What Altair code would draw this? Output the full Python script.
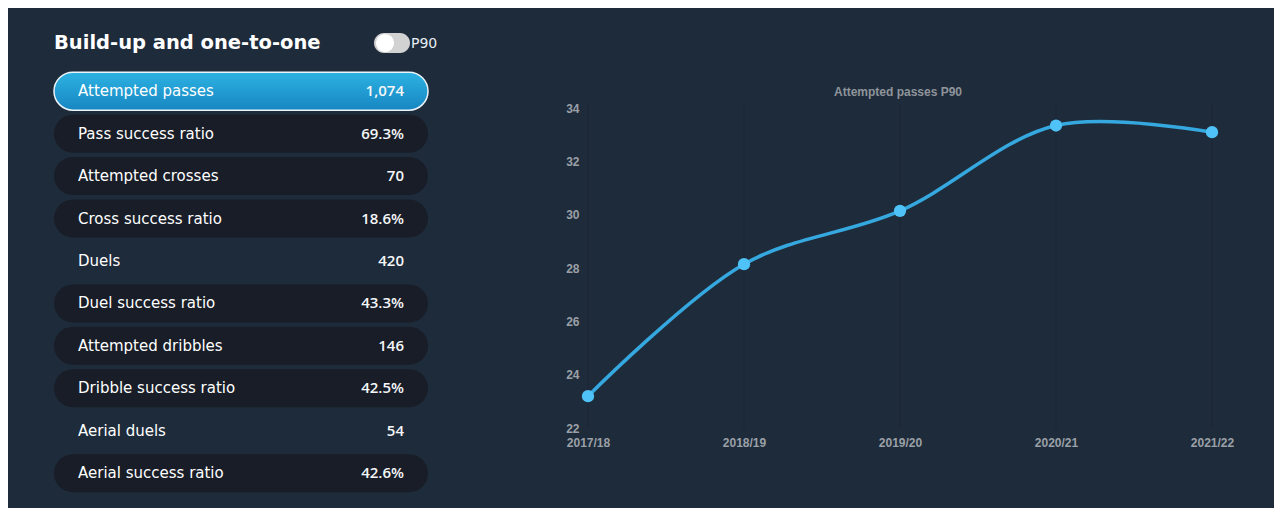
import altair as alt
import pandas as pd

# ---------------- data ----------------
stat_labels = ["Attempted passes", "Pass success ratio", "Attempted crosses",
               "Cross success ratio", "Duels", "Duel success ratio",
               "Attempted dribbles", "Dribble success ratio", "Aerial duels",
               "Aerial success ratio"]
stat_values = ["1,074", "69.3%", "70", "18.6%", "420", "43.3%", "146",
               "42.5%", "54", "42.6%"]
plain_rows = ["Duels", "Aerial duels"]
selected_row = "Attempted passes"

seasons = ["2017/18", "2018/19", "2019/20", "2020/21", "2021/22"]
p90_values = [23.2, 28.15, 30.15, 33.35, 33.1]
y_ticks = [22, 24, 26, 28, 30, 32, 34]

panel_title = "Build-up and one-to-one"
toggle_label = "P90"
chart_title = "Attempted passes P90"

# ---------------- styles ----------------
BG = "#1e2b3a"
PILL = "#181d27"
TXT_FONT = "DejaVu Sans"
VAL_FONT = "Open Sans"
AX_FONT = "Liberation Sans"
AX_COLOR = "#9aa0a7"

stats = pd.DataFrame({"label": stat_labels, "value": stat_values})
stats["kind"] = ["selected" if l == selected_row else ("plain" if l in plain_rows else "pill")
                 for l in stat_labels]

W_L = 374
H_L = 424.4

ybase = alt.Y("label:N", sort=stat_labels,
              scale=alt.Scale(paddingInner=0.105, paddingOuter=0.0525), axis=None)
base = alt.Chart(stats).encode(y=ybase)

pills = base.transform_filter("datum.kind == 'pill'").mark_bar(
    cornerRadius=19, color=PILL
).encode(x=alt.value(0), x2=alt.value(W_L))

selected = base.transform_filter("datum.kind == 'selected'").mark_bar(
    cornerRadius=19, stroke="#eaf4fa", strokeWidth=1.5,
    color=alt.Gradient(gradient="linear",
                       stops=[alt.GradientStop(color="#2db2e2", offset=0),
                              alt.GradientStop(color="#1786c2", offset=1)],
                       x1=0, x2=0, y1=0, y2=1)
).encode(x=alt.value(0), x2=alt.value(W_L))

labels = base.mark_text(align="left", baseline="middle", font=TXT_FONT,
                        fontSize=15, color="#ffffff").encode(
    x=alt.value(24), text="label:N")
values = base.mark_text(align="right", baseline="middle", font=VAL_FONT,
                        fontSize=15, fontWeight=600, color="#f4f6f8").encode(
    x=alt.value(W_L - 24), text="value:N")

hdr = alt.Chart(pd.DataFrame({"t": [panel_title]}))
header = hdr.mark_text(align="left", baseline="middle", font=TXT_FONT,
                       fontSize=19.5, fontWeight="bold", color="#ffffff").encode(
    x=alt.value(0), y=alt.value(-27), text="t:N")

tog = alt.Chart(pd.DataFrame({"t": [toggle_label]}))
toggle = tog.mark_bar(cornerRadius=10, color="#d2d2d2").encode(
    x=alt.value(320), x2=alt.value(356), y=alt.value(-37), y2=alt.value(-17))
knob = tog.mark_circle(size=330, color="#ffffff", opacity=1).encode(
    x=alt.value(331), y=alt.value(-27))
p90 = tog.mark_text(align="left", baseline="middle", font=TXT_FONT,
                    fontSize=14, color="#e8eef2").encode(
    x=alt.value(357), y=alt.value(-26), text="t:N")

left = alt.layer(pills, selected, labels, values, header, toggle, knob, p90).properties(
    width=W_L, height=H_L)

# ---------------- right chart ----------------
df = pd.DataFrame({"season": seasons, "value": p90_values})
W_R = 624
H_R = 427 - 68.8
px_per_unit = 320 / 12
ymax = 22 + H_R / px_per_unit

x_enc = alt.X("season:N", sort=seasons,
              scale=alt.Scale(type="point", padding=0),
              axis=alt.Axis(title=None, labelAngle=0, domain=False, ticks=False,
                            tickSize=0, grid=False, labelPadding=9, labelFlush=False,
                            labelFont=AX_FONT, labelFontSize=12,
                            labelFontWeight="bold", labelColor=AX_COLOR))
y_enc = alt.Y("value:Q",
              scale=alt.Scale(domain=[22, ymax], nice=False, zero=False),
              axis=alt.Axis(title=None, values=y_ticks, domain=False, ticks=False,
                            tickSize=0, grid=False, labelPadding=9, labelFlush=False,
                            labelFont=AX_FONT, labelFontSize=12,
                            labelFontWeight="bold", labelColor=AX_COLOR))

grid = alt.Chart(df).mark_rule(color="#1a2734", strokeWidth=1).encode(
    x=x_enc, y=alt.datum(22), y2=alt.datum(34.15))
line = alt.Chart(df).mark_line(interpolate="catmull-rom", color="#36a8e0",
                               strokeWidth=3.5).encode(x=x_enc, y=y_enc)
pts = alt.Chart(df).mark_circle(size=150, color="#4fc3f7", opacity=1).encode(
    x=x_enc, y=y_enc)
ttl = alt.Chart(pd.DataFrame({"t": [chart_title]})).mark_text(
    align="center", baseline="middle", font=AX_FONT, fontSize=12,
    fontWeight="bold", color="#8e949b").encode(
    x=alt.value(W_R / 2 - 2), y=alt.value(22), text="t:N")

right = alt.layer(grid, line, pts, ttl).properties(width=W_R, height=H_R)

chart = alt.hconcat(left, right, spacing=160, bounds="flush").configure(
    background=BG,
    padding={"left": 45, "top": 25, "right": 40, "bottom": 13},
).configure_view(stroke=None)

chart.save("out.html", embed_options={"renderer": "svg", "actions": False})
